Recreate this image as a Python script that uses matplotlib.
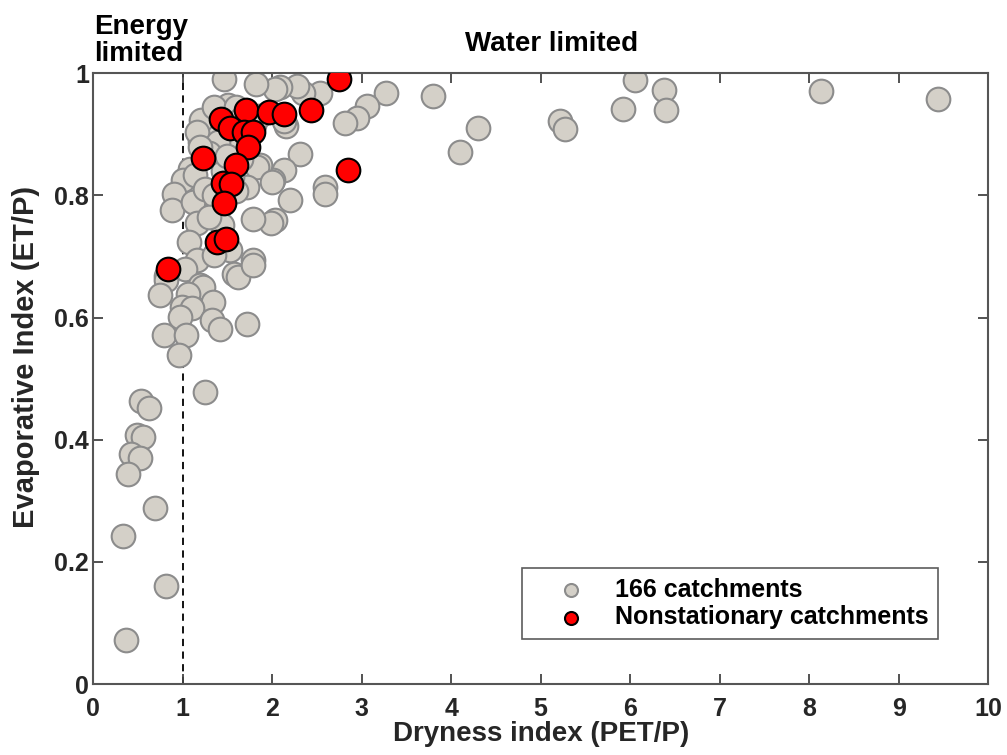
import matplotlib.pyplot as plt

# Dryness index (PET/P) and evaporative index (ET/P)
gray_x = [
    3.27, 3.80, 4.30, 4.10, 5.22, 5.27, 5.92, 6.05, 6.38, 6.40, 8.13, 9.44,
    3.06, 2.95, 2.82, 2.53, 2.35, 2.28, 2.09, 2.03, 1.82, 1.46, 2.16, 2.13,
    2.31, 2.13, 2.01, 2.59, 2.59, 2.20, 2.03, 1.99, 1.79, 1.87, 1.83, 1.72,
    1.60, 2.00, 1.80, 1.65, 1.55, 1.45, 1.40, 1.85, 1.55,
    1.21, 1.51, 1.35, 1.60, 1.65, 1.20, 1.16, 1.40, 1.30, 1.50, 1.08, 1.19,
    1.01, 1.14, 0.90, 0.88, 1.12, 1.25, 1.35, 1.16, 1.07, 1.44, 1.30, 1.79,
    1.57, 1.16, 1.53, 1.35, 1.62, 1.79, 1.03, 0.81, 0.82, 0.75, 1.20, 1.23,
    1.06, 1.34, 0.99, 1.10, 0.97, 1.33, 1.42, 1.72, 0.79, 1.04, 0.96, 1.25,
    0.54, 0.63, 0.49, 0.56, 0.42, 0.53, 0.39, 0.69, 0.34, 0.81, 0.37,
]
gray_y = [
    0.968, 0.962, 0.911, 0.871, 0.922, 0.908, 0.942, 0.989, 0.973, 0.939, 0.971, 0.958,
    0.946, 0.926, 0.919, 0.968, 0.967, 0.979, 0.977, 0.975, 0.983, 0.991, 0.913, 0.921,
    0.868, 0.841, 0.825, 0.814, 0.803, 0.792, 0.759, 0.754, 0.762, 0.849, 0.846, 0.814,
    0.808, 0.822, 0.915, 0.860, 0.830, 0.840, 0.910, 0.930, 0.895,
    0.924, 0.948, 0.945, 0.945, 0.925, 0.888, 0.904, 0.888, 0.870, 0.865, 0.844, 0.879,
    0.825, 0.833, 0.803, 0.776, 0.789, 0.810, 0.800, 0.754, 0.724, 0.751, 0.765, 0.694,
    0.672, 0.694, 0.710, 0.703, 0.667, 0.686, 0.680, 0.668, 0.661, 0.637, 0.653, 0.650,
    0.639, 0.626, 0.618, 0.615, 0.601, 0.596, 0.582, 0.590, 0.571, 0.571, 0.538, 0.478,
    0.464, 0.452, 0.408, 0.404, 0.377, 0.370, 0.344, 0.289, 0.243, 0.161, 0.072,
]

red_x = [2.75, 1.43, 1.53, 1.71, 1.97, 2.13, 2.43, 1.69, 1.79, 1.73,
         1.23, 1.60, 1.45, 1.54, 1.46, 2.85, 1.38, 1.49, 0.84]
red_y = [0.991, 0.925, 0.911, 0.939, 0.936, 0.934, 0.940, 0.903, 0.903, 0.880,
         0.861, 0.849, 0.820, 0.819, 0.787, 0.842, 0.723, 0.729, 0.680]

plt.rcParams["font.family"] = ["Liberation Sans", "DejaVu Sans"]
plt.rcParams["font.weight"] = "bold"

fig = plt.figure(figsize=(10.07, 7.55), dpi=100)
ax = fig.add_axes([0.0924, 0.094, 0.889, 0.809])

ax.scatter(gray_x, gray_y, s=290, facecolor="#d4d0c8", edgecolor="#8c8c8c",
           linewidth=1.5, label="166 catchments", zorder=2)
ax.scatter(red_x, red_y, s=290, facecolor="#ff0000", edgecolor="black",
           linewidth=1.5, label="Nonstationary catchments", zorder=3)

ax.axvline(1, color="black", linestyle=(0, (4, 3)), linewidth=1.3, zorder=1)

ax.set_xlim(0, 10)
ax.set_ylim(0, 1)
ax.set_xticks(range(0, 11))
ax.set_yticks([0, 0.2, 0.4, 0.6, 0.8, 1])
ax.set_yticklabels(["0", "0.2", "0.4", "0.6", "0.8", "1"])
ax.tick_params(direction="in", top=True, right=True, length=7, width=1.3,
               color="#444444", labelsize=18, labelcolor="#262626")
ax.tick_params(axis="x", pad=9)
ax.tick_params(axis="y", pad=3)
for lab in ax.get_xticklabels() + ax.get_yticklabels():
    lab.set_fontweight("bold")
for sp in ax.spines.values():
    sp.set_color("#555555")
    sp.set_linewidth(1.5)

ax.set_xlabel("Dryness index (PET/P)", fontsize=20, fontweight="bold",
              color="#262626")
ax.set_ylabel("Evaporative Index (ET/P)", fontsize=21, fontweight="bold",
              color="#262626")
ax.xaxis.set_label_coords(0.5, -0.061)
ax.yaxis.set_label_coords(-0.059, 0.535)

fig.text(0.548, 0.942, "Water limited", ha="center", va="center",
         fontsize=20, fontweight="bold")
fig.text(0.093, 0.946, "Energy\nlimited", ha="left", va="center",
         fontsize=20, fontweight="bold", linespacing=1.05)

leg = ax.legend(loc="lower right", bbox_to_anchor=(0.944, 0.074),
                borderaxespad=0, fontsize=18, markerscale=0.55,
                frameon=True, fancybox=False, edgecolor="#333333",
                handlelength=3.2, handletextpad=0.15, borderpad=0.38,
                labelspacing=0.15)
leg.get_frame().set_linewidth(1.2)

fig.savefig("out.png", dpi=100)
